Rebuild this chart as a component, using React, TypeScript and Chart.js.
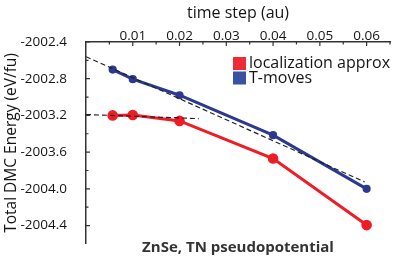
import React, { useEffect, useRef } from "react";
import { Chart, registerables } from "chart.js";

Chart.register(...registerables);

// ---- data ----
const timeSteps = [0.0057, 0.01, 0.02, 0.04, 0.06];
const localizationApprox = [-2003.2, -2003.195, -2003.26, -2003.67, -2004.395];
const tMoves = [-2002.7, -2002.805, -2002.98, -2003.415, -2004.0];

const tMovesFitX = [0, 0.0596];
const tMovesFitY = [-2002.56, -2003.925];
const locFitX = [0, 0.0241];
const locFitY = [-2003.19, -2003.235];

const xTicks = [0.01, 0.02, 0.03, 0.04, 0.05, 0.06];
const xMinorTicks = [0.005, 0.015, 0.025, 0.035, 0.045, 0.055, 0.065];
const yTicks = [-2002.4, -2002.8, -2003.2, -2003.6, -2004.0, -2004.4];
const yMinorTicks = [-2002.6, -2003.0, -2003.4, -2003.8, -2004.2];

const seriesLabels = ["localization approx", "T-moves"];
const xTitle = "time step (au)";
const yTitle = "Total DMC Energy (eV/fu)";
const bottomNote = "ZnSe, TN pseudopotential";

const FONT = "'Open Sans', 'DejaVu Sans', sans-serif";
const AXIS = "#333333";
const TEXT = "#151515";

const pts = (xs: number[], ys: number[]) => xs.map((x, i) => ({ x, y: ys[i] }));

const decorPlugin = {
  id: "decor",
  afterDraw(chart: any) {
    const ctx = chart.ctx;
    const xs = chart.scales.x;
    const ys = chart.scales.y;
    const area = chart.chartArea;
    ctx.save();
    ctx.strokeStyle = AXIS;
    ctx.lineWidth = 1.2;
    ctx.beginPath();
    xTicks.forEach((v) => {
      const px = xs.getPixelForValue(v);
      ctx.moveTo(px, area.top);
      ctx.lineTo(px, area.top + 4);
    });
    xMinorTicks.forEach((v) => {
      const px = xs.getPixelForValue(v);
      ctx.moveTo(px, area.top);
      ctx.lineTo(px, area.top + 2.5);
    });
    yTicks.forEach((v) => {
      const py = ys.getPixelForValue(v);
      ctx.moveTo(area.left, py);
      ctx.lineTo(area.left + 4, py);
    });
    yMinorTicks.forEach((v) => {
      const py = ys.getPixelForValue(v);
      ctx.moveTo(area.left, py);
      ctx.lineTo(area.left + 2.5, py);
    });
    ctx.stroke();

    // legend
    const legendX = 233;
    let legendY = 57;
    ctx.font = `16px ${FONT}`;
    ctx.textBaseline = "middle";
    ctx.textAlign = "left";
    chart.data.datasets.forEach((ds: any) => {
      if (ds.isFit) return;
      ctx.fillStyle = ds.backgroundColor;
      ctx.fillRect(legendX, legendY, 13, 13);
      ctx.fillStyle = TEXT;
      ctx.fillText(ds.label, legendX + 16, legendY + 6.5);
      legendY += 14.5;
    });

    // bottom note
    ctx.font = `bold 15px ${FONT}`;
    ctx.fillStyle = "#333333";
    ctx.textAlign = "center";
    ctx.fillText(bottomNote, (area.left + area.right) / 2, 248);
    ctx.restore();
  },
};

export default function App() {
  const ref = useRef<HTMLCanvasElement | null>(null);

  useEffect(() => {
    document.body.style.margin = "0";
    if (!ref.current) return;
    const chart = new Chart(ref.current, {
      type: "line",
      data: {
        datasets: [
          {
            label: "fit T",
            isFit: true,
            data: pts(tMovesFitX, tMovesFitY),
            borderColor: "#222222",
            borderWidth: 1.2,
            borderDash: [5, 3],
            pointRadius: 0,
            fill: false,
          } as any,
          {
            label: "fit loc",
            isFit: true,
            data: pts(locFitX, locFitY),
            borderColor: "#222222",
            borderWidth: 1.2,
            borderDash: [5, 3],
            pointRadius: 0,
            fill: false,
          } as any,
          {
            label: seriesLabels[0],
            data: pts(timeSteps, localizationApprox),
            borderColor: "#EE1C25",
            backgroundColor: "#EE2A35",
            pointBackgroundColor: "#EE1C25",
            pointBorderColor: "#EE1C25",
            borderWidth: 3,
            pointRadius: 3.8,
            fill: false,
          },
          {
            label: seriesLabels[1],
            data: pts(timeSteps, tMoves),
            borderColor: "#2B3990",
            backgroundColor: "#3A51A3",
            pointBackgroundColor: "#2B3990",
            pointBorderColor: "#2B3990",
            borderWidth: 3,
            pointRadius: 2.6,
            fill: false,
          },
        ],
      },
      options: {
        animation: false,
        responsive: false,
        layout: { padding: { left: 0, top: 0, right: 20, bottom: 15 } },
        plugins: {
          legend: { display: false },
          tooltip: { enabled: false },
        },
        scales: {
          x: {
            type: "linear",
            position: "top",
            min: 0,
            max: 0.065,
            grid: { display: false },
            border: { display: true, color: AXIS, width: 1.5 },
            afterBuildTicks: (scale: any) => {
              scale.ticks = xTicks.map((v) => ({ value: v }));
            },
            afterFit: (scale: any) => {
              scale.height = 42;
            },
            ticks: {
              padding: -10,
              color: TEXT,
              font: { family: FONT, size: 13.5 },
              maxRotation: 0,
              callback: (v: any) => Number(v).toFixed(2),
            },
            title: {
              display: true,
              text: xTitle,
              color: TEXT,
              font: { family: FONT, size: 16 },
              padding: { top: 4, bottom: 0 },
            },
          },
          y: {
            type: "linear",
            min: -2004.6,
            max: -2002.4,
            grid: { display: false },
            border: { display: true, color: AXIS, width: 1.5 },
            afterBuildTicks: (scale: any) => {
              scale.ticks = yTicks.map((v) => ({ value: v }));
            },
            afterFit: (scale: any) => {
              scale.width = 86;
            },
            ticks: {
              padding: 11,
              color: TEXT,
              font: { family: FONT, size: 13.5 },
              callback: (v: any) => Number(v).toFixed(1),
            },
            title: {
              display: true,
              text: yTitle,
              color: TEXT,
              font: { family: FONT, size: 15.5 },
              padding: { top: 2, bottom: 0 },
            },
          },
        },
      },
      plugins: [decorPlugin],
    });
    return () => chart.destroy();
  }, []);

  return (
    <div style={{ position: "fixed", left: 0, top: 0, width: 410, height: 263 }}>
      <canvas ref={ref} width={410} height={263} />
    </div>
  );
}
